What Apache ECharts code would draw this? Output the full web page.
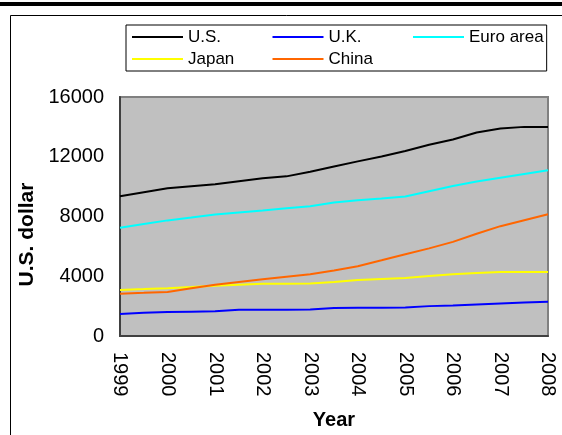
<!DOCTYPE html>
<html>
<head>
<meta charset="utf-8">
<script src="https://cdn.jsdelivr.net/npm/echarts@6/dist/echarts.min.js"></script>
<style>
  html, body { margin: 0; padding: 0; background: #ffffff; }
  #chart { width: 562px; height: 435px; }
</style>
</head>
<body>
<div id="chart"></div>
<script>
// Half-year points; only whole years are labelled
const categories = ['1999','1999.5','2000','2000.5','2001','2001.5','2002','2002.5','2003','2003.5',
                    '2004','2004.5','2005','2005.5','2006','2006.5','2007','2007.5','2008'];
const usValues    = [9353, 9620, 9887, 10020, 10153, 10353, 10553, 10687, 11000, 11350, 11690, 12020, 12380, 12800, 13150, 13620, 13887, 14000, 14000];
const ukValues    = [1470, 1550, 1610, 1630, 1650, 1750, 1755, 1760, 1770, 1870, 1887, 1890, 1910, 2000, 2040, 2110, 2180, 2240, 2287];
const euroValues  = [7250, 7500, 7740, 7930, 8130, 8270, 8400, 8550, 8690, 8930, 9090, 9200, 9340, 9690, 10040, 10350, 10600, 10850, 11090];
const japanValues = [3087, 3140, 3200, 3280, 3370, 3430, 3490, 3500, 3513, 3620, 3753, 3820, 3887, 4020, 4133, 4220, 4287, 4287, 4287];
const chinaValues = [2830, 2890, 2953, 3190, 3430, 3620, 3800, 3970, 4130, 4390, 4670, 5067, 5467, 5867, 6300, 6847, 7353, 7753, 8153];
const seriesNames = ['U.S.', 'U.K.', 'Euro area', 'Japan', 'China'];
const seriesColors = ['#000000', '#0000ff', '#00ffff', '#ffff00', '#ff6600'];
const yTicks = { min: 0, max: 16000, interval: 4000 };

const FONT = "'Liberation Sans', Arial, sans-serif";
const allValues = [usValues, ukValues, euroValues, japanValues, chinaValues];

const chart = echarts.init(document.getElementById('chart'), null, { renderer: 'canvas' });

const series = seriesNames.map((name, i) => ({
  name: name,
  type: 'line',
  data: allValues[i],
  symbol: 'none',
  showSymbol: false,
  smooth: false,
  animation: false,
  lineStyle: { color: seriesColors[i], width: 2 },
  itemStyle: { color: seriesColors[i] }
}));

const colW = 84.5;
chart.setOption({
  backgroundColor: '#ffffff',
  animation: false,
  graphic: [
    { type: 'rect', shape: { x: 0, y: 2, width: 562, height: 4 }, style: { fill: '#000' }, silent: true },
    { type: 'line', shape: { x1: 10.5, y1: 15.5, x2: 562, y2: 15.5 }, style: { stroke: '#000', lineWidth: 1 }, silent: true },
    { type: 'line', shape: { x1: 10.5, y1: 15.5, x2: 10.5, y2: 435 }, style: { stroke: '#000', lineWidth: 1 }, silent: true }
  ],
  legend: {
    left: 126,
    top: 25,
    width: 420,
    padding: [1, 3, 1, 6],
    itemGap: 0,
    icon: 'rect',
    itemWidth: 51,
    itemHeight: 2,
    borderColor: '#000',
    borderWidth: 1,
    backgroundColor: '#fff',
    textStyle: { fontSize: 17, fontFamily: FONT, color: '#000', lineHeight: 22 },
    data: [
      { name: 'U.S.', textStyle: { width: colW } },
      { name: 'U.K.', textStyle: { width: colW } },
      { name: 'Euro area' },
      { name: 'Japan', textStyle: { width: colW } },
      { name: 'China', textStyle: { width: colW } }
    ]
  },
  grid: {
    left: 120, right: 14, top: 97, bottom: 98,
    show: true,
    backgroundColor: '#c0c0c0',
    borderColor: '#808080',
    borderWidth: 2,
    containLabel: false
  },
  xAxis: {
    type: 'category',
    data: categories,
    boundaryGap: false,
    name: 'Year',
    nameLocation: 'middle',
    nameGap: 74,
    nameTextStyle: { fontSize: 20, fontWeight: 'bold', fontFamily: FONT, color: '#000' },
    axisLine: { lineStyle: { color: '#404040', width: 2 } },
    axisTick: { show: false },
    splitLine: { show: false },
    axisLabel: { interval: 1, rotate: -90, margin: 16, fontSize: 20, fontFamily: FONT, color: '#000' }
  },
  yAxis: {
    type: 'value',
    min: yTicks.min, max: yTicks.max, interval: yTicks.interval,
    name: 'U.S. dollar',
    nameLocation: 'middle',
    nameGap: 80,
    nameRotate: 90,
    nameTextStyle: { fontSize: 21, fontWeight: 'bold', fontFamily: FONT, color: '#000', padding: [0, 36, 0, 0] },
    axisLine: { show: true, lineStyle: { color: '#404040', width: 2 } },
    axisTick: { show: false },
    splitLine: { show: false },
    axisLabel: { margin: 16, fontSize: 20, fontFamily: FONT, color: '#000', formatter: function (v) { return String(v); } }
  },
  series: series
});
</script>
</body>
</html>
